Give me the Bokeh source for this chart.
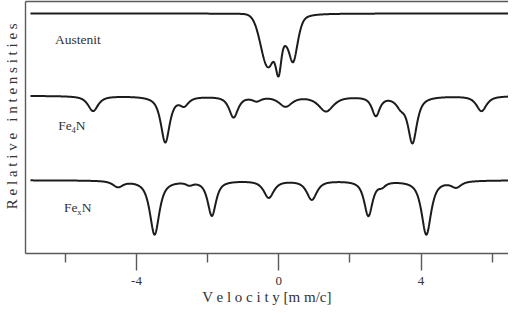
import numpy as np
from bokeh.plotting import figure
from bokeh.models import Range1d, LinearAxis, FixedTicker, Label
from bokeh.embed import file_html
from bokeh.resources import INLINE

# ---- data (velocity in mm/c, arbitrary intensity units) ----
# Austenit
aus_base = 2.40
aus_pos = [-0.30, 0.00, 0.17, 0.40]
aus_depth = [0.52, 0.40, 0.11, 0.48]
aus_hwhm = [0.24, 0.09, 0.10, 0.16]
aus_eta = [0.0, 0.2, 0.0, 0.5]

# Fe4N
fe4n_base = 1.577
fe4n_pos = [-5.22, -3.19, -2.66, -1.27, -0.62, 0.19, 1.33, 2.73, 3.43, 3.76, 5.70]
fe4n_depth = [0.15, 0.46, 0.08, 0.21, 0.04, 0.10, 0.15, 0.19, 0.08, 0.46, 0.15]
fe4n_hwhm = [0.17, 0.15, 0.15, 0.15, 0.15, 0.22, 0.25, 0.13, 0.15, 0.15, 0.17]

# FexN
fexn_base = 0.733
fexn_pos = [-4.52, -3.49, -2.51, -1.88, -0.28, 0.93, 2.52, 2.90, 4.15, 4.99]
fexn_depth = [0.06, 0.54, 0.03, 0.35, 0.17, 0.19, 0.35, 0.04, 0.54, 0.06]
fexn_hwhm = [0.17, 0.16, 0.12, 0.14, 0.17, 0.17, 0.14, 0.12, 0.16, 0.17]

tick_values = [-4, 0, 4]
tick_labels = ["-4", "0", "4"]
minor_tick_values = [-6, -2, 2, 6]

v_start, v_end = -6.98, 6.46
FONT = "Liberation Serif"


def spectrum(v, base, pos, depth, hwhm, eta=None):
    if eta is None:
        eta = [0.8] * len(pos)
    y = np.full_like(v, base)
    for c, d, w, e in zip(pos, depth, hwhm, eta):
        x = (v - c) / w
        lor = 1.0 / (1.0 + x * x)
        gau = np.exp(-np.log(2) * x * x)
        y -= d * (e * lor + (1 - e) * gau)
    return y


v = np.linspace(v_start, v_end, 1500)

p = figure(width=508, height=309, output_backend="svg", toolbar_location=None,
           x_range=Range1d(-7.12, 6.46), y_range=Range1d(0, 2.52),
           x_axis_location=None, y_axis_location=None,
           min_border_left=24, min_border_right=0, min_border_top=1, min_border_bottom=56)
p.outline_line_color = None
p.grid.visible = False
p.background_fill_color = "white"
p.border_fill_color = "white"

frame_col = "#5a5a5a"
text_col = "#333333"

xaxis = LinearAxis(ticker=FixedTicker(ticks=tick_values, minor_ticks=minor_tick_values),
                   axis_label="V e l o c i t y [m m/c]")
xaxis.major_label_overrides = {t: l for t, l in zip(tick_values, tick_labels)}
xaxis.axis_line_color = frame_col
xaxis.axis_line_width = 1.4
xaxis.major_tick_line_color = frame_col
xaxis.minor_tick_line_color = frame_col
xaxis.major_tick_line_width = 1.4
xaxis.minor_tick_line_width = 1.4
xaxis.major_tick_out = 17
xaxis.major_tick_in = 0
xaxis.minor_tick_out = 9
xaxis.minor_tick_in = 0
xaxis.major_label_standoff = 6
xaxis.major_label_text_font = FONT
xaxis.major_label_text_font_size = "13px"
xaxis.major_label_text_color = text_col
xaxis.axis_label_text_font = FONT
xaxis.axis_label_text_font_size = "15px"
xaxis.axis_label_text_font_style = "normal"
xaxis.axis_label_text_color = text_col
xaxis.axis_label_standoff = 1
p.add_layout(xaxis, "below")

pad = "\u00a0" * 6
yaxis = LinearAxis(ticker=FixedTicker(ticks=[]),
                   axis_label=pad + "R e l a t i v e\u00a0\u00a0 i n t e n s i t i e s")
yaxis.axis_line_color = frame_col
yaxis.axis_line_width = 1.4
yaxis.major_tick_out = 0
yaxis.minor_tick_out = 0
yaxis.axis_label_text_font = FONT
yaxis.axis_label_text_font_size = "15px"
yaxis.axis_label_text_font_style = "normal"
yaxis.axis_label_text_color = text_col
yaxis.axis_label_standoff = 6
p.add_layout(yaxis, "left")

taxis = LinearAxis(ticker=FixedTicker(ticks=[]))
taxis.axis_line_color = frame_col
taxis.axis_line_width = 1.4
taxis.major_tick_out = 0
taxis.minor_tick_out = 0
p.add_layout(taxis, "above")

line_col = "#1c1c1c"
p.line(v, spectrum(v, aus_base, aus_pos, aus_depth, aus_hwhm, aus_eta), line_color=line_col, line_width=2)
p.line(v, spectrum(v, fe4n_base, fe4n_pos, fe4n_depth, fe4n_hwhm), line_color=line_col, line_width=2)
p.line(v, spectrum(v, fexn_base, fexn_pos, fexn_depth, fexn_hwhm), line_color=line_col, line_width=2)


def add_label(x, y, text, size, x_off=0, y_off=0):
    p.add_layout(Label(x=x, y=y, text=text, x_offset=x_off, y_offset=y_off,
                       text_font=FONT, text_font_size=size, text_color=text_col,
                       text_baseline="middle", text_align="left"))


add_label(-6.29, 2.145, "Austenit", "13.5px")
add_label(-6.20, 1.277, "Fe", "13.5px")
add_label(-6.20, 1.277, "4", "8.5px", x_off=13.3, y_off=-4)
add_label(-6.20, 1.277, "N", "13.5px", x_off=17.5)
add_label(-6.04, 0.46, "Fe", "13.5px")
add_label(-6.04, 0.46, "x", "8.5px", x_off=13.3, y_off=-4)
add_label(-6.04, 0.46, "N", "13.5px", x_off=17.8)

open("out.html", "w").write(file_html(p, INLINE))
